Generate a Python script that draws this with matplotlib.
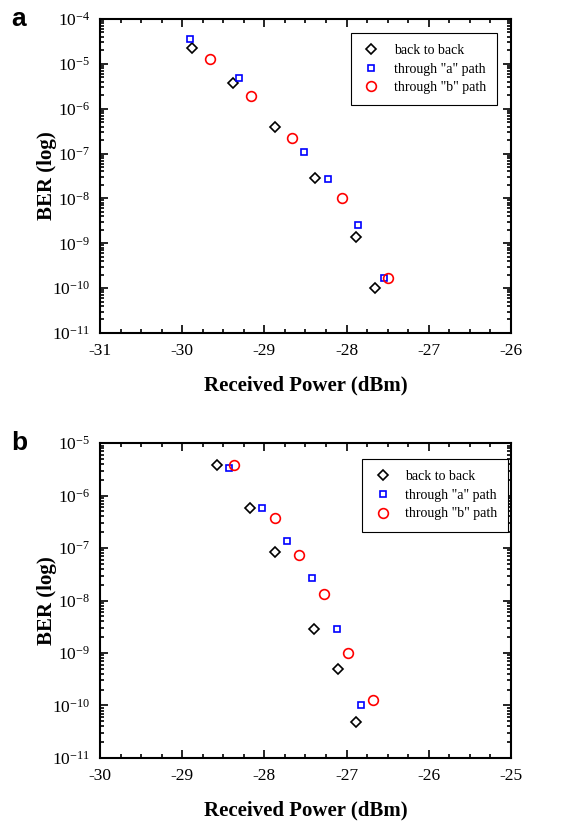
import numpy as np
import matplotlib
matplotlib.use("Agg")
import matplotlib.pyplot as plt
from matplotlib.ticker import MultipleLocator, LogLocator, LogFormatterMathtext, NullFormatter

plt.rcParams['font.family'] = ['Liberation Serif', 'DejaVu Serif']
plt.rcParams['mathtext.fontset'] = 'custom'
plt.rcParams['mathtext.rm'] = 'Liberation Serif'
plt.rcParams['axes.unicode_minus'] = False

# panel a
a_b2b_x = [-29.88, -29.38, -28.87, -28.38, -27.88, -27.65]
a_b2b_y = [2.2e-5, 3.8e-6, 3.9e-7, 2.9e-8, 1.4e-9, 1.0e-10]
a_pa_x = [-29.90, -29.31, -28.52, -28.23, -27.86, -27.54]
a_pa_y = [3.6e-5, 4.8e-6, 1.08e-7, 2.7e-8, 2.6e-9, 1.7e-10]
a_pb_x = [-29.66, -29.16, -28.67, -28.06, -27.50]
a_pb_y = [1.26e-5, 1.95e-6, 2.26e-7, 1.0e-8, 1.7e-10]

# panel b
b_b2b_x = [-28.58, -28.18, -27.87, -27.40, -27.10, -26.89]
b_b2b_y = [3.9e-6, 5.9e-7, 8.5e-8, 2.9e-9, 4.9e-10, 4.9e-11]
b_pa_x = [-28.43, -28.03, -27.73, -27.42, -27.12, -26.83]
b_pa_y = [3.4e-6, 5.9e-7, 1.38e-7, 2.65e-8, 2.9e-9, 1.0e-10]
b_pb_x = [-28.37, -27.87, -27.58, -27.28, -26.98, -26.68]
b_pb_y = [3.9e-6, 3.7e-7, 7.4e-8, 1.33e-8, 1.0e-9, 1.27e-10]

labels = ['back to back', 'through "a" path', 'through "b" path']


def draw_panel(ax, series, xlim, ylim, letter, leg_anchor):
    styles = [('D', 'black', 5.5), ('s', 'blue', 5), ('o', 'red', 7)]
    for (x, y), (m, c, ms), lab in zip(series, styles, labels):
        ax.plot(x, y, linestyle='none', marker=m, markersize=ms, markerfacecolor='none',
                markeredgecolor=c, markeredgewidth=1.2, label=lab)
    ax.set_yscale('log')
    ax.set_xlim(*xlim)
    ax.set_ylim(*ylim)
    ax.xaxis.set_major_locator(MultipleLocator(1))
    ax.xaxis.set_minor_locator(MultipleLocator(0.25))
    ax.yaxis.set_major_locator(LogLocator(base=10, numticks=20))
    ax.yaxis.set_minor_locator(LogLocator(base=10, subs=np.arange(2, 10), numticks=20))
    ax.yaxis.set_major_formatter(LogFormatterMathtext())
    ax.yaxis.set_minor_formatter(NullFormatter())
    ax.tick_params(which='both', direction='in', top=True, right=True, width=1.2, labelsize=12.5)
    ax.tick_params(which='major', length=6, pad=7)
    ax.tick_params(which='minor', length=3)
    for s in ax.spines.values():
        s.set_linewidth(1.5)
    ax.set_xlabel('Received Power (dBm)', fontsize=15, fontweight='bold', labelpad=12)
    ax.set_ylabel('BER (log)', fontsize=15, fontweight='bold')
    ax.yaxis.set_label_coords(-0.105, 0.5)
    leg = ax.legend(loc='upper right', bbox_to_anchor=leg_anchor, borderaxespad=0,
                    fancybox=False, edgecolor='black', fontsize=10, handlelength=1.4,
                    handletextpad=0.9, borderpad=0.8, labelspacing=0.4, framealpha=1)
    leg.get_frame().set_linewidth(0.8)
    ax.text(-0.215, 1.0, letter, transform=ax.transAxes, fontsize=19, fontweight='bold',
            family='Liberation Sans', va='center', ha='left')


fig = plt.figure(figsize=(5.74, 8.22), dpi=100)
ax_a = fig.add_axes([0.1742, 0.5949, 0.716, 0.382])
ax_b = fig.add_axes([0.1742, 0.0779, 0.716, 0.383])

draw_panel(ax_a, [(a_b2b_x, a_b2b_y), (a_pa_x, a_pa_y), (a_pb_x, a_pb_y)],
           (-31, -26), (1e-11, 1e-4), 'a', (0.966, 0.955))
draw_panel(ax_b, [(b_b2b_x, b_b2b_y), (b_pa_x, b_pa_y), (b_pb_x, b_pb_y)],
           (-30, -25), (1e-11, 1e-5), 'b', (0.993, 0.949))

fig.savefig('out.png', dpi=100)
